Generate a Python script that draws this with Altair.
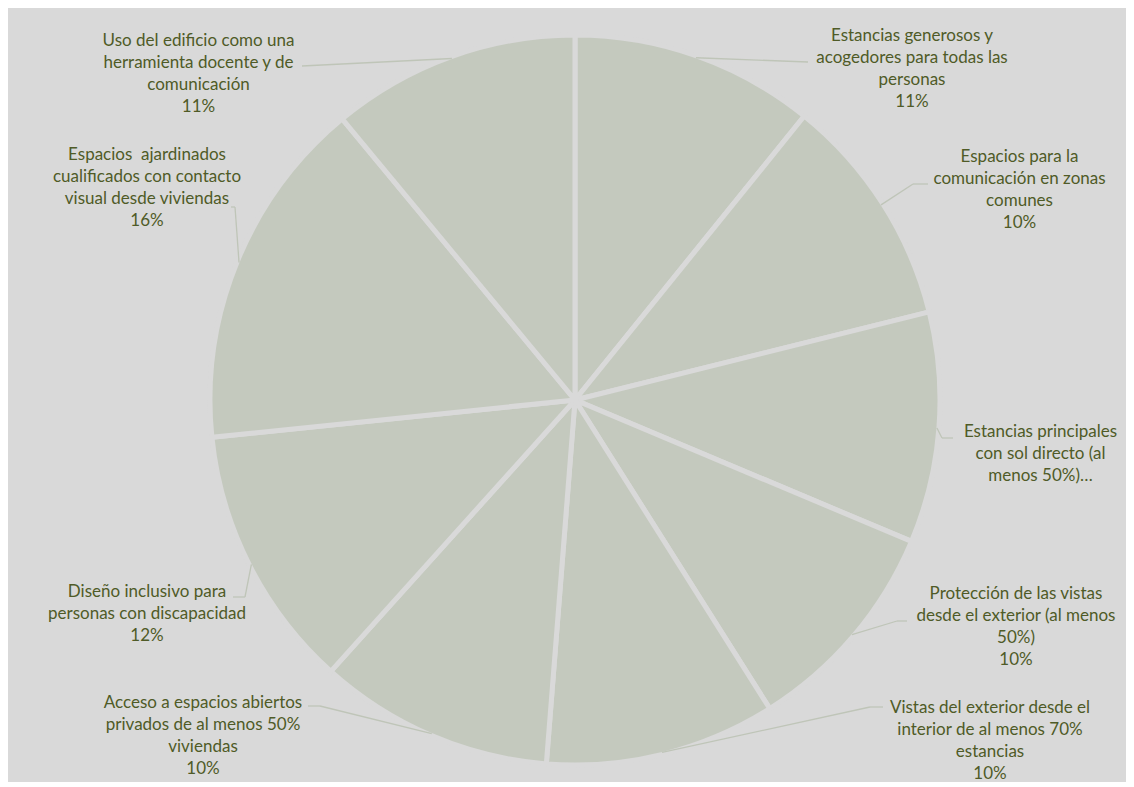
import altair as alt
import pandas as pd

# ---- data ----
categories = [
    "Estancias generosos y\nacogedores para todas las\npersonas",
    "Espacios para la\ncomunicación en zonas\ncomunes",
    "Estancias principales\ncon sol directo (al\nmenos 50%)…",
    "Protección de las vistas\ndesde el exterior (al menos\n50%)",
    "Vistas del exterior desde el\ninterior de al menos 70%\nestancias",
    "Acceso a espacios abiertos\nprivados de al menos 50%\nviviendas",
    "Diseño inclusivo para\npersonas con discapacidad",
    "Espacios\u00a0 ajardinados\ncualificados con contacto\nvisual desde viviendas",
    "Uso del edificio como una\nherramienta docente y de\ncomunicación",
]
values = [10.8, 10.3, 10.2, 9.7, 10.2, 10.4, 11.7, 15.6, 11.0]
pct_labels = ["11%", "10%", "", "10%", "10%", "10%", "12%", "16%", "11%"]

# ---- label layout (annotation placement, plot pixels) ----
label_x = [904, 1011.5, 1032.5, 1008, 982, 195, 139, 139, 190.5]
label_y = [32.5, 153.7, 429, 591.3, 705, 700, 589, 152, 37.7]
elbow_x = [800, 905, 934, 889, 862, 312, 237, 227, 294]
elbow_y = [54, 176, 430, 613, 699, 698, 589, 199, 58]
end_x = [800, 920, 945, 899, 875, 300, 225, 223, 294]
end_y = [54, 176, 430, 613, 699, 698, 589, 199, 58]

CX, CY, R = 567, 392, 363
BG = "#D9D9D9"
SLICE = "#C4C9BE"
TEXT = "#4F5B27"
LEADER = "#BFC5B8"

df = pd.DataFrame({
    "idx": list(range(len(values))),
    "category": categories,
    "value": values,
    "label_text": [c + ("\n" + p if p else "") for c, p in zip(categories, pct_labels)],
    "lx": label_x,
    "ly": label_y,
    "bx": elbow_x,
    "by": elbow_y,
    "tx": end_x,
    "ty": end_y,
})

base = alt.Chart(df)

pie = base.mark_arc(outerRadius=R + 2, stroke=BG, strokeWidth=5).encode(
    theta=alt.Theta("value:Q", stack=True),
    order=alt.Order("idx:Q"),
    x=alt.value(CX),
    y=alt.value(CY),
    color=alt.value(SLICE),
)

edge = base.transform_window(
    cum="sum(value)", sort=[alt.SortField("idx")], frame=[None, 0]
).transform_joinaggregate(
    total="sum(value)"
).transform_calculate(
    mid="(datum.cum - datum.value / 2) / datum.total * 2 * PI",
    ex=f"{CX} + {R} * sin(datum.mid)",
    ey=f"{CY} - {R} * cos(datum.mid)",
)

lead1 = edge.mark_rule(color=LEADER, strokeWidth=1.3).encode(
    x=alt.X("ex:Q", scale=None),
    y=alt.Y("ey:Q", scale=None),
    x2="bx:Q",
    y2="by:Q",
)
lead2 = base.mark_rule(color=LEADER, strokeWidth=1.3).encode(
    x=alt.X("bx:Q", scale=None),
    y=alt.Y("by:Q", scale=None),
    x2="tx:Q",
    y2="ty:Q",
)

labels = base.mark_text(
    align="center", baseline="alphabetic", lineBreak="\n", lineHeight=22,
    font="Lato", fontSize=17, color=TEXT,
).encode(
    x=alt.X("lx:Q", scale=None),
    y=alt.Y("ly:Q", scale=None),
    text="label_text:N",
)

chart = alt.layer(pie, lead1, lead2, labels).properties(
    width=1118, height=771, padding=0, background=BG
).configure_view(strokeWidth=0)

chart.save("out.html", embed_options={"renderer": "svg", "actions": False})
